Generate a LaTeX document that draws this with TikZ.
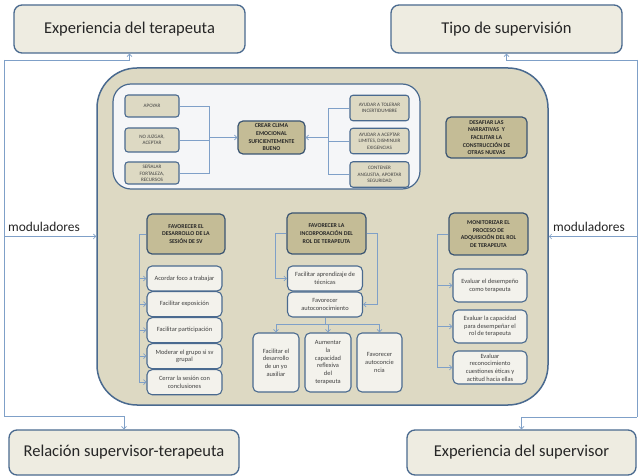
\documentclass[tikz,border=0pt]{standalone}
\usepackage{fontspec}
\setmainfont{Carlito}
\usetikzlibrary{arrows.meta}
\definecolor{bigfill}{HTML}{DDD9C3}
\definecolor{edge}{HTML}{4A6A8F}
\definecolor{khaki}{HTML}{C4BC96}
\definecolor{lightfill}{HTML}{F3F2EC}
\definecolor{whitefill}{HTML}{F5F6F8}
\definecolor{cornerfill}{HTML}{EEECE1}
\definecolor{connc}{HTML}{7FA0C8}
\definecolor{txt}{HTML}{262626}
\definecolor{subtxt}{HTML}{404040}
\tikzset{
  cornerbox/.style={draw=edge, line width=1.3pt, fill=cornerfill, rounded corners=8pt,
    font=\fontsize{16.5}{18}\selectfont, text=txt, minimum height=45pt, inner sep=0pt},
  hdrbox/.style={draw=edge!80!black, line width=1.2pt, fill=khaki, rounded corners=5pt,
    font=\fontsize{5.9}{7.7}\selectfont\bfseries, align=center, inner sep=0.5pt, text=txt},
  subbox/.style={draw=edge, line width=1.1pt, fill=lightfill, rounded corners=5pt,
    font=\fontsize{6.4}{7.7}\selectfont, align=center, inner sep=0.5pt, text=subtxt},
  tinybox/.style={draw=edge, line width=1.1pt, fill=bigfill, rounded corners=3pt,
    font=\fontsize{5.1}{6.4}\selectfont, align=center, inner sep=0.5pt, text=subtxt},
  connline/.style={draw=connc, line width=0.7pt},
  arrline/.style={connline, -{Straight Barb[length=2.5pt,width=5pt]}},
  modtext/.style={font=\fontsize{13.4}{15}\selectfont, text=txt}
}
\begin{document}
\begin{tikzpicture}[x=1pt,y=-1pt]
\useasboundingbox (0,0) rectangle (641,476);
\fill[white] (0,0) rectangle (641,476);

% big box
\node[draw=edge, line width=1.5pt, fill=bigfill, rounded corners=40pt,
  minimum width=451pt, minimum height=337pt] (big) at (322.5,236.5) {};

% corner boxes
\node[cornerbox, minimum width=231pt, minimum height=48pt] (ct) at (129.5,29) {Experiencia del terapeuta};
\node[cornerbox, minimum width=231pt, minimum height=48pt] (cs) at (506.5,29) {Tipo de supervisión};
\node[cornerbox, minimum width=230pt] (cr) at (124,452.5) {Relación supervisor-terapeuta};
\node[cornerbox, minimum width=229pt] (cx) at (521.5,452.5) {Experiencia del supervisor};

% moduladores connectors
\coordinate (lt) at (4,60);
\coordinate (lb) at (4,416);
\coordinate (lm) at (4,236.5);
\coordinate (rt) at (637,60);
\coordinate (rb) at (637,417);
\coordinate (rm) at (637,236.5);
\draw[connline] (lt) -- (lb);
\draw[connline] (rt) -- (rb);
\draw[arrline] (lt) -| (ct.south);
\draw[arrline] (lb) -| (cr.north);
\draw[arrline] (rt) -| (cs.south);
\draw[arrline] (rb) -| (cx.north);
\draw[arrline] (lm) -- (big.west);
\draw[arrline] (rm) -- (big.east);
\node[modtext] (ml) at (44,227) {moduladores};
\node[modtext] (mr) at (589,227) {moduladores};

% white box
\node[draw=edge, line width=1.2pt, fill=whitefill, rounded corners=18pt,
  minimum width=307pt, minimum height=105pt] (wb) at (266.5,136.5) {};

\node[hdrbox, minimum width=67pt, minimum height=33pt] (cc) at (271.5,137.5)
  {CREAR CLIMA\\EMOCIONAL\\SUFICIENTEMENTE\\BUENO};

\node[tinybox, minimum width=54pt, minimum height=22pt] (a1) at (152,106) {APOYAR};
\node[tinybox, minimum width=54pt, minimum height=24pt] (a2) at (152,140) {NO JUZGAR,\\ACEPTAR};
\node[tinybox, minimum width=54pt, minimum height=22pt] (a3) at (152,173) {SEÑALAR\\FORTALEZA,\\RECURSOS};

\node[tinybox, minimum width=59pt, minimum height=25.5pt] (b1) at (379.5,108) {AYUDAR A TOLERAR\\INCERTIDUMBRE};
\node[tinybox, minimum width=59pt, minimum height=25.5pt] (b2) at (379.5,141) {AYUDAR A ACEPTAR\\LIMITES, DISMINUIR\\EXIGENCIAS};
\node[tinybox, minimum width=59pt, minimum height=25.5pt] (b3) at (379.5,174.5) {CONTENER\\ANGUSTIA, APORTAR\\SEGURIDAD};

\coordinate (jl) at (209,137.5);
\coordinate (jr) at (328,137.5);
\draw[connline] (a1.east) -| (jl);
\draw[connline] (a3.east) -| (jl);
\draw[connline] (a2.east) -- (a2.east -| jl);
\draw[arrline] (jl) -- (cc.west);
\draw[connline] (b1.west) -| (jr);
\draw[connline] (b3.west) -| (jr);
\draw[connline] (b2.west) -- (b2.west -| jr);
\draw[arrline] (jr) -- (cc.east);

\node[hdrbox, minimum width=81pt, minimum height=41pt] (de) at (486.5,137.5)
  {DESAFIAR LAS\\NARRATIVAS\ \ Y\\FACILITAR LA\\CONSTRUCCIÓN DE\\OTRAS NUEVAS};

% left column
\node[hdrbox, minimum width=78pt, minimum height=40pt] (h1) at (186,234)
  {FAVORECER EL\\DESARROLLO DE LA\\SESIÓN DE SV};
\node[subbox, minimum width=75pt, minimum height=25pt] (s1) at (184.5,278.5) {Acordar foco a trabajar};
\node[subbox, minimum width=75pt, minimum height=25pt] (s2) at (184.5,304.2) {Facilitar exposición};
\node[subbox, minimum width=75pt, minimum height=25pt] (s3) at (184.5,330.2) {Facilitar participación};
\node[subbox, minimum width=75pt, minimum height=25pt] (s4) at (184.5,356.2) {Moderar el grupo si sv\\grupal};
\node[subbox, minimum width=75pt, minimum height=25pt] (s5) at (184.5,382.2) {Cerrar la sesión con\\conclusiones};
\coordinate (v1) at (139,234);
\draw[arrline] (h1.west) -- (v1) |- (s5.west);
\draw[arrline] (v1 |- s1.west) -- (s1.west);
\draw[arrline] (v1 |- s2.west) -- (s2.west);
\draw[arrline] (v1 |- s3.west) -- (s3.west);
\draw[arrline] (v1 |- s4.west) -- (s4.west);

% middle column
\node[hdrbox, minimum width=79pt, minimum height=41pt] (h2) at (326.5,233.5)
  {FAVORECER LA\\INCORPORACIÓN DEL\\ROL DE TERAPEUTA};
\node[subbox, minimum width=75pt, minimum height=25pt] (m1) at (325,278.5) {Facilitar aprendizaje de\\técnicas};
\node[subbox, minimum width=75pt, minimum height=25pt] (m2) at (325,304.5) {Favorecer\\autoconocimiento};
\draw[arrline] (h2.west) -- ++(-11,0) |- (m1.west);
\draw[arrline] (h2.east) -- ++(11,0) |- (m2.east);

\node[subbox, minimum width=46pt, minimum height=59pt] (n1) at (276,362.5) {Facilitar el\\desarrollo\\de un yo\\auxiliar};
\node[subbox, minimum width=46pt, minimum height=59pt] (n2) at (328,362.5) {Aumentar\\la\\capacidad\\reflexiva\\del\\terapeuta};
\node[subbox, minimum width=45pt, minimum height=59pt] (n3) at (379.5,362.5) {Favorecer\\autoconcie\\ncia};
\coordinate (hb) at (325,324);
\draw[connline] (m2.south) -- (hb);
\draw[arrline] (hb) -| (n1.north);
\draw[arrline] (hb) -| (n2.north);
\draw[arrline] (hb) -| (n3.north);

% right column
\node[hdrbox, minimum width=79pt, minimum height=42pt] (h3) at (488.5,234)
  {MONITORIZAR EL\\PROCESO DE\\ADQUISICIÓN DEL ROL\\DE TERAPEUTA};
\node[subbox, minimum width=74pt, minimum height=33pt] (r1) at (490,285.5) {Evaluar el desempeño\\como terapeuta};
\node[subbox, minimum width=74pt, minimum height=33pt] (r2) at (490,326.5) {Evaluar la capacidad\\para desempeñar el\\rol de terapeuta};
\node[subbox, minimum width=74pt, minimum height=33pt] (r3) at (490,367.5) {Evaluar\\reconocimiento\\cuestiones éticas y\\actitud hacia ellas};
\coordinate (v3) at (437,234);
\draw[arrline] (h3.west) -- (v3) |- (r3.west);
\draw[arrline] (v3 |- r1.west) -- (r1.west);
\draw[arrline] (v3 |- r2.west) -- (r2.west);
\end{tikzpicture}
\end{document}
